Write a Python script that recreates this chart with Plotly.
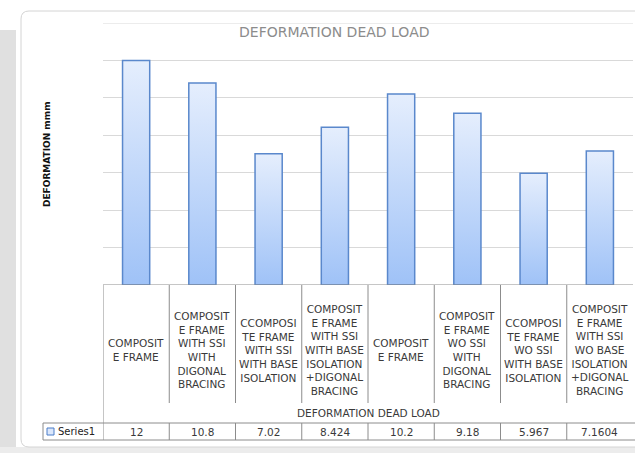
import plotly.graph_objects as go

# ---- data ----
categories = [
    "COMPOSIT<br>E FRAME",
    "COMPOSIT<br>E FRAME<br>WITH SSI<br>WITH<br>DIGONAL<br>BRACING",
    "CCOMPOSI<br>TE FRAME<br>WITH SSI<br>WITH BASE<br>ISOLATION",
    "COMPOSIT<br>E FRAME<br>WITH SSI<br>WITH BASE<br>ISOLATION<br>+DIGONAL<br>BRACING",
    "COMPOSIT<br>E FRAME",
    "COMPOSIT<br>E FRAME<br>WO SSI<br>WITH<br>DIGONAL<br>BRACING",
    "CCOMPOSI<br>TE FRAME<br>WO SSI<br>WITH BASE<br>ISOLATION",
    "COMPOSIT<br>E FRAME<br>WITH SSI<br>WO BASE<br>ISOLATION<br>+DIGONAL<br>BRACING",
]
values = [12, 10.8, 7.02, 8.424, 10.2, 9.18, 5.967, 7.1604]
value_labels = ["12", "10.8", "7.02", "8.424", "10.2", "9.18", "5.967", "7.1604"]
series_name = "Series1"
chart_title = "DEFORMATION DEAD LOAD"
x_title = "DEFORMATION DEAD LOAD"
y_title = "DEFORMATION mmm"
y_ticks = [0, 2, 4, 6, 8, 10, 12, 14]

# ---- page geometry (pixels) ----
W, H = 635, 453
L, R, T, B = 103, 2, 23, 168
PW, PH = W - L - R, H - T - B
BASE = H - B  # pixel row of the value axis zero


def px(x):
    return (x - L) / PW


def py(y):
    return (BASE - y) / PH


GRID = "#d9d9d9"
TABLE = "#8c8c8c"
TEXT = "#3a3a3a"
BAR_LINE = "#5a88cc"
FONT = "DejaVu Sans"

fig = go.Figure()

# columns with a vertical light-blue gradient
half = 0.205
for i, v in enumerate(values):
    fig.add_trace(go.Scatter(
        x=[i - half, i - half, i + half, i + half, i - half],
        y=[0, v, v, 0, 0],
        mode="lines",
        fill="toself",
        fillgradient=dict(type="vertical",
                          colorscale=[[0, "#9fc2f7"], [1, "#e5eefd"]],
                          start=0, stop=v),
        line=dict(color=BAR_LINE, width=1.5),
        hoverinfo="skip",
        showlegend=False,
    ))

shapes = []

# page background bands and chart frame
shapes.append(dict(type="rect", xref="paper", yref="paper", layer="below",
                   x0=px(0), x1=px(16), y0=py(H), y1=py(30),
                   fillcolor="#e0e0e0", line=dict(width=0)))
shapes.append(dict(type="rect", xref="paper", yref="paper", layer="below",
                   x0=px(0), x1=px(W), y0=py(H), y1=py(447),
                   fillcolor="#ececec", line=dict(width=0)))
r = 8
fx0, fy0, fx1, fy1 = 21, 11, 660, 447
frame = (f"M {px(fx0)},{py(fy0 + r)} Q {px(fx0)},{py(fy0)} {px(fx0 + r)},{py(fy0)} "
         f"L {px(fx1)},{py(fy0)} L {px(fx1)},{py(fy1)} "
         f"L {px(fx0 + r)},{py(fy1)} Q {px(fx0)},{py(fy1)} {px(fx0)},{py(fy1 - r)} Z")
shapes.append(dict(type="path", xref="paper", yref="paper", layer="below",
                   path=frame, fillcolor="white", line=dict(color="#d4d4d4", width=1)))

# top gridline sits on the plot edge, so draw it explicitly
shapes.append(dict(type="line", xref="paper", yref="y", layer="below",
                   x0=0, x1=1, y0=y_ticks[-1], y1=y_ticks[-1],
                   line=dict(color=GRID, width=1)))

# data table: category cells
n = len(categories)
shapes.append(dict(type="line", xref="x", yref="y", x0=-0.5, x1=n - 0.5 + 0.05, y0=0, y1=0,
                   line=dict(color=TABLE, width=1)))
for i in range(n):
    b = i - 0.5
    y_end = 423 if i == 0 else 403
    shapes.append(dict(type="line", xref="x", yref="paper", x0=b, x1=b,
                       y0=py(BASE), y1=py(y_end), line=dict(color=TABLE, width=1)))

# data table: series row
for yy in (423, 440):
    shapes.append(dict(type="line", xref="paper", yref="paper", x0=px(43), x1=px(W),
                       y0=py(yy), y1=py(yy), line=dict(color=TABLE, width=1)))
shapes.append(dict(type="line", xref="paper", yref="paper", x0=px(43), x1=px(43),
                   y0=py(423), y1=py(440), line=dict(color=TABLE, width=1)))
for i in range(n):
    b = i - 0.5
    shapes.append(dict(type="line", xref="x", yref="paper", x0=b, x1=b,
                       y0=py(423), y1=py(440), line=dict(color=TABLE, width=1)))
# legend key
shapes.append(dict(type="rect", xref="paper", yref="paper",
                   x0=px(47), x1=px(54), y0=py(435), y1=py(428),
                   fillcolor="#dbe7fb", line=dict(color="#4a7cc8", width=1)))

annotations = []
for i, c in enumerate(categories):
    annotations.append(dict(x=i, y=py(350), xref="x", yref="paper", text=c,
                            showarrow=False, align="center", yanchor="middle",
                            font=dict(family=FONT, size=10.5, color=TEXT)))
for i, lab in enumerate(value_labels):
    annotations.append(dict(x=i, y=py(431.5), xref="x", yref="paper", text=lab,
                            showarrow=False, yanchor="middle",
                            font=dict(family=FONT, size=10.5, color=TEXT)))
annotations.append(dict(x=px(56), y=py(431.5), xref="paper", yref="paper",
                        text=series_name, showarrow=False, xanchor="left",
                        yanchor="middle",
                        font=dict(family=FONT, size=10, color="#222222")))
annotations.append(dict(x=0.5, y=py(412.5), xref="paper", yref="paper", text=x_title,
                        showarrow=False, yanchor="middle",
                        font=dict(family=FONT, size=10.5, color=TEXT)))
annotations.append(dict(x=px(334), y=py(32), xref="paper", yref="paper", text=chart_title,
                        showarrow=False, yanchor="middle",
                        font=dict(family=FONT, size=14, color="#8c8c8c")))
annotations.append(dict(x=px(47), y=py(154), xref="paper", yref="paper",
                        text=f"<b>{y_title}</b>", textangle=-90, showarrow=False,
                        xanchor="center", yanchor="middle",
                        font=dict(family=FONT, size=9, color="#111111")))

fig.update_layout(
    width=W, height=H,
    margin=dict(l=L, r=R, t=T, b=B, pad=0),
    paper_bgcolor="white",
    plot_bgcolor="rgba(0,0,0,0)",
    showlegend=False,
    shapes=shapes,
    annotations=annotations,
    xaxis=dict(range=[-0.5, n - 0.5], showgrid=False, zeroline=False,
               showticklabels=False, ticks="", showline=False, fixedrange=True),
    yaxis=dict(range=[0, 14], tickvals=y_ticks, showgrid=True, gridcolor=GRID,
               gridwidth=1, zeroline=False, showticklabels=False, ticks="",
               showline=False, fixedrange=True),
)

fig.write_html("out.html")
